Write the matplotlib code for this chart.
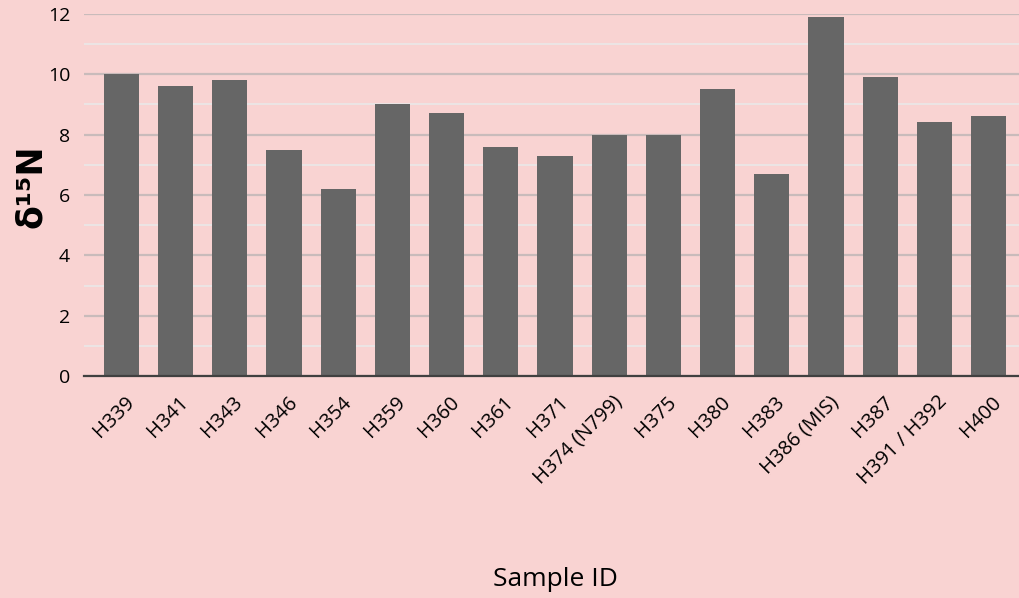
import matplotlib
matplotlib.use('Agg')
import matplotlib.pyplot as plt
import matplotlib.transforms as mtransforms
from matplotlib.ticker import MultipleLocator

# sample IDs and nitrogen isotope values
samples = ['H339', 'H341', 'H343', 'H346', 'H354', 'H359', 'H360', 'H361',
           'H371', 'H374 (N799)', 'H375', 'H380', 'H383', 'H386 (MIS)',
           'H387', 'H391 / H392', 'H400']
d15n = [10.0, 9.6, 9.8, 7.5, 6.2, 9.0, 8.7, 7.6,
        7.3, 8.0, 8.0, 9.5, 6.7, 11.9,
        9.9, 8.4, 8.6]

plt.rcParams['font.family'] = ['Open Sans', 'DejaVu Sans']

bg = '#f9d3d2'
fig = plt.figure(figsize=(10.2, 5.98), dpi=100, facecolor=bg)
ax = fig.add_axes([0.0824, 0.371, 0.9176, 0.606], facecolor=bg)

x = range(len(samples))
ax.bar(x, d15n, width=0.65, color='#666666', zorder=3)

ax.set_ylim(0, 12)
ax.set_xlim(-0.69, 16.58)
ax.yaxis.set_major_locator(MultipleLocator(2))
ax.yaxis.set_minor_locator(MultipleLocator(1))
ax.grid(axis='y', which='major', color='#c9bbbb', lw=1.6, zorder=0)
ax.grid(axis='y', which='minor', color='#ece4e4', lw=1.5, zorder=0)

for s in ['top', 'right', 'left']:
    ax.spines[s].set_visible(False)
ax.spines['bottom'].set_color('#404040')
ax.spines['bottom'].set_linewidth(1.6)
ax.spines['bottom'].set_zorder(4)

ax.tick_params(axis='both', which='both', length=0)
ax.tick_params(axis='y', labelsize=14, pad=10)
ax.set_xticks(list(x))
ax.set_xticklabels(samples, rotation=45, ha='right', rotation_mode='anchor',
                   fontsize=14.5)
shift = mtransforms.ScaledTranslation(3 / 100, -11 / 100, fig.dpi_scale_trans)
for lbl in ax.get_xticklabels():
    lbl.set_transform(lbl.get_transform() + shift)

ax.set_ylabel('δ¹⁵N', fontsize=25, fontweight='bold', family='DejaVu Sans')
ax.yaxis.set_label_coords(-0.038, 0.525)
fig.text(0.545, 0.01, 'Sample ID', ha='center', va='bottom', fontsize=19)

fig.savefig('out.png', dpi=100, facecolor=bg)
